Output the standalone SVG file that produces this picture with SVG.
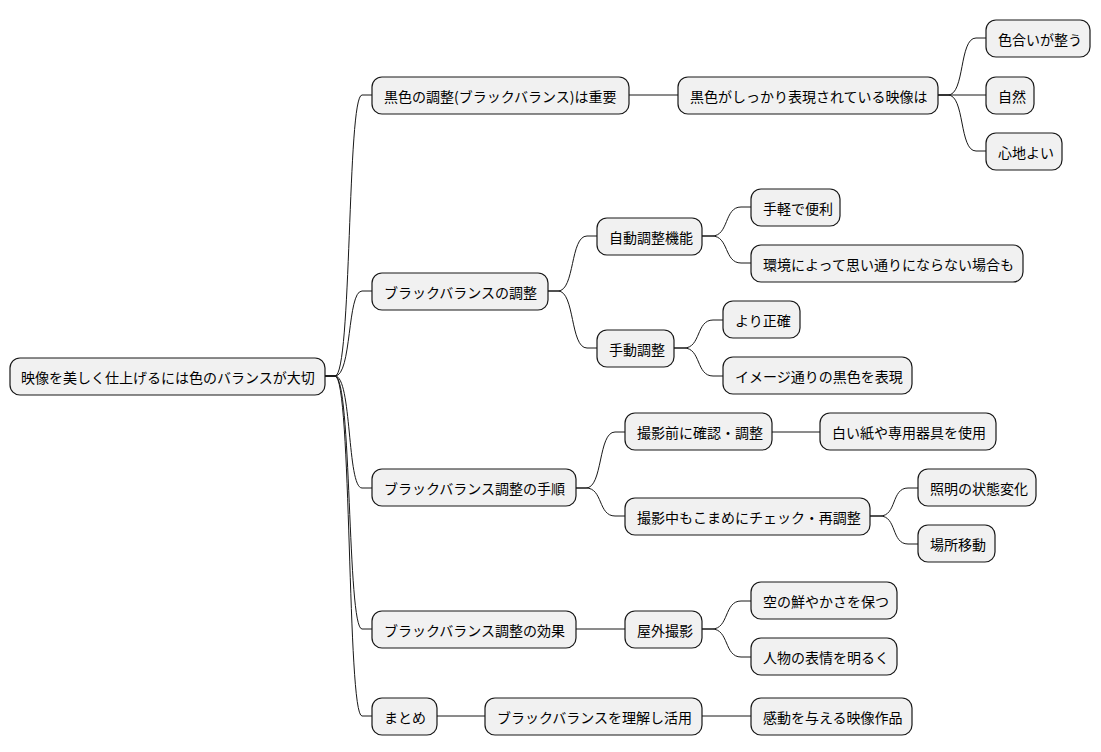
<svg xmlns="http://www.w3.org/2000/svg" width="1101" height="752" viewBox="0 0 1101 752">
<style>
rect{fill:#f1f1f1;stroke:#181818;stroke-width:1.2}
text{font-family:"Noto Sans CJK JP","Liberation Sans",sans-serif;font-size:14px;fill:#000;dominant-baseline:central}
.c path{fill:none;stroke:#181818;stroke-width:1}
</style>
<rect x="0" y="0" width="1101" height="752" style="fill:#fff;stroke:none"/>
<g class="c">
<path d="M325 376 L335 376 C352 376 347 95 362 95 L372 95"/>
<path d="M325 376 L335 376 C352 376 347 291 362 291 L372 291"/>
<path d="M325 376 L335 376 C352 376 347 488 362 488 L372 488"/>
<path d="M325 376 L335 376 C352 376 347 629 362 629 L372 629"/>
<path d="M325 376 L335 376 C352 376 347 716 362 716 L372 716"/>
<path d="M629 95 L678 95"/>
<path d="M938 95 L948 95 C965 95 959 38 976 38 L986 38"/>
<path d="M938 95 L986 95"/>
<path d="M938 95 L948 95 C965 95 959 151 976 151 L986 151"/>
<path d="M548 291 L558 291 C575 291 570 236 587 236 L597 236"/>
<path d="M548 291 L558 291 C575 291 570 348 587 348 L597 348"/>
<path d="M702 236 L712 236 C729 236 724 207 741 207 L751 207"/>
<path d="M702 236 L712 236 C729 236 724 263 741 263 L751 263"/>
<path d="M674 348 L684 348 C701 348 696 320 713 320 L723 320"/>
<path d="M674 348 L684 348 C701 348 696 376 713 376 L723 376"/>
<path d="M576 488 L586 488 C603 488 598 432 615 432 L625 432"/>
<path d="M576 488 L586 488 C603 488 598 516 615 516 L625 516"/>
<path d="M772 432 L820 432"/>
<path d="M870 516 L880 516 C897 516 891 488 908 488 L918 488"/>
<path d="M870 516 L880 516 C897 516 891 544 908 544 L918 544"/>
<path d="M576 629 L625 629"/>
<path d="M702 629 L712 629 C729 629 724 601 741 601 L751 601"/>
<path d="M702 629 L712 629 C729 629 724 657 741 657 L751 657"/>
<path d="M437 716 L485 716"/>
<path d="M702 716 L751 716"/>
</g>
<g id="root"><rect x="10" y="358" width="315" height="37" rx="10"/><text x="21" y="376.5">映像を美しく仕上げるには色のバランスが大切</text></g>
<g id="n1"><rect x="372" y="77" width="257" height="37" rx="10"/><text x="384" y="95.5">黒色の調整(ブラックバランス)は重要</text></g>
<g id="n11"><rect x="678" y="77" width="260" height="37" rx="10"/><text x="690" y="95.5">黒色がしっかり表現されている映像は</text></g>
<g id="n111"><rect x="986" y="20" width="104" height="37" rx="10"/><text x="998" y="38.5">色合いが整う</text></g>
<g id="n112"><rect x="986" y="77" width="48" height="37" rx="10"/><text x="998" y="95.5">自然</text></g>
<g id="n113"><rect x="986" y="133" width="76" height="37" rx="10"/><text x="998" y="151.5">心地よい</text></g>
<g id="n2"><rect x="372" y="273" width="176" height="37" rx="10"/><text x="384" y="291.5">ブラックバランスの調整</text></g>
<g id="n21"><rect x="597" y="218" width="105" height="37" rx="10"/><text x="609" y="236.5">自動調整機能</text></g>
<g id="n211"><rect x="751" y="189" width="89" height="37" rx="10"/><text x="763" y="207.5">手軽で便利</text></g>
<g id="n212"><rect x="751" y="245" width="272" height="37" rx="10"/><text x="763" y="263.5">環境によって思い通りにならない場合も</text></g>
<g id="n22"><rect x="597" y="330" width="77" height="37" rx="10"/><text x="609" y="348.5">手動調整</text></g>
<g id="n221"><rect x="723" y="301" width="77" height="37" rx="10"/><text x="735" y="319.5">より正確</text></g>
<g id="n222"><rect x="723" y="357" width="189" height="37" rx="10"/><text x="735" y="375.5">イメージ通りの黒色を表現</text></g>
<g id="n3"><rect x="372" y="469" width="204" height="37" rx="10"/><text x="384" y="487.5">ブラックバランス調整の手順</text></g>
<g id="n31"><rect x="625" y="413" width="147" height="37" rx="10"/><text x="637" y="431.5">撮影前に確認・調整</text></g>
<g id="n311"><rect x="820" y="413" width="176" height="37" rx="10"/><text x="832" y="431.5">白い紙や専用器具を使用</text></g>
<g id="n32"><rect x="625" y="498" width="245" height="37" rx="10"/><text x="637" y="516.5">撮影中もこまめにチェック・再調整</text></g>
<g id="n321"><rect x="918" y="469" width="118" height="37" rx="10"/><text x="930" y="487.5">照明の状態変化</text></g>
<g id="n322"><rect x="918" y="525" width="77" height="37" rx="10"/><text x="930" y="543.5">場所移動</text></g>
<g id="n4"><rect x="372" y="611" width="204" height="37" rx="10"/><text x="384" y="629.5">ブラックバランス調整の効果</text></g>
<g id="n41"><rect x="625" y="611" width="77" height="37" rx="10"/><text x="637" y="629.5">屋外撮影</text></g>
<g id="n411"><rect x="751" y="582" width="146" height="37" rx="10"/><text x="763" y="600.5">空の鮮やかさを保つ</text></g>
<g id="n412"><rect x="751" y="638" width="146" height="37" rx="10"/><text x="763" y="656.5">人物の表情を明るく</text></g>
<g id="n5"><rect x="372" y="698" width="65" height="37" rx="10"/><text x="384" y="716.5">まとめ</text></g>
<g id="n51"><rect x="485" y="698" width="217" height="37" rx="10"/><text x="497" y="716.5">ブラックバランスを理解し活用</text></g>
<g id="n511"><rect x="751" y="698" width="161" height="37" rx="10"/><text x="763" y="716.5">感動を与える映像作品</text></g>
</svg>
